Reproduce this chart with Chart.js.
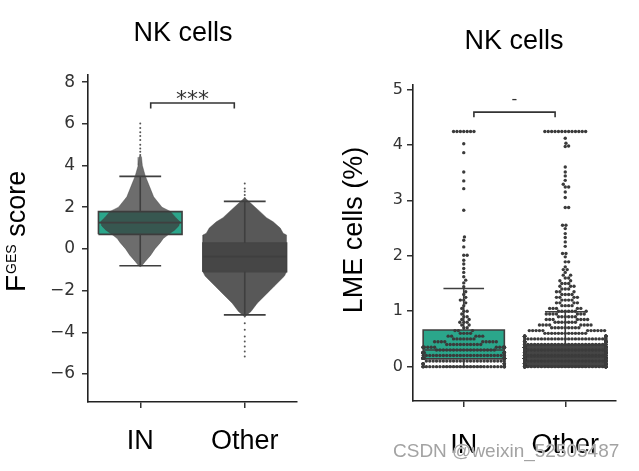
<!DOCTYPE html>
<html>
<head>
<meta charset="utf-8">
<script src="https://cdn.jsdelivr.net/npm/chart.js@4.4.0/dist/chart.umd.min.js"></script>
<style>
  body { margin: 0; background: #fff; width: 639px; height: 471px; overflow: hidden; position: relative; }
  canvas { position: absolute; top: 0; }
  #left { left: 0; }
  #right { left: 320px; }
  #wm { position: absolute; left: 393px; top: 440px; font: 19px "Liberation Sans", Arial, sans-serif;
        color: #a3a3a3; text-shadow: 0 0 1px #fff, 0 0 1px #fff; white-space: nowrap; }
</style>
</head>
<body>
<canvas id="left" width="320" height="471"></canvas>
<canvas id="right" width="319" height="471"></canvas>
<div id="wm">CSDN @weixin_52505487</div>
<script>
const groups = ['IN', 'Other'];

// ---- left panel: F_GES score ----
const gesTicks = [-6, -4, -2, 0, 2, 4, 6, 8];
// [lower whisker, Q1, median, Q3, upper whisker]
const gesBoxIN = [-0.81, 0.70, 1.26, 1.79, 3.48];
const gesBoxOther = [-3.16, -1.09, -0.37, 0.28, 2.28];
// outline of the dense swarm: score level and relative spread (1 = full box width)
const gesLevelIN = [-0.85, -0.8, -0.6, -0.3, 0.0, 0.3, 0.5, 0.7, 0.9, 1.1, 1.3, 1.5, 1.8, 2.0, 2.3, 2.5, 3.0, 3.5, 4.0, 4.4, 4.5];
const gesSpreadIN = [0, 0.04, 0.12, 0.25, 0.35, 0.48, 0.55, 0.68, 0.82, 0.92, 0.95, 0.85, 0.72, 0.52, 0.40, 0.32, 0.22, 0.12, 0.05, 0.03, 0];
const gesLevelOther = [-3.25, -3.0, -2.6, -2.3, -2.0, -1.8, -1.5, -1.3, -1.1, 0.67, 0.75, 1.0, 1.3, 1.5, 1.8, 2.0, 2.2, 2.35, 2.45];
const gesSpreadOther = [0, 0.15, 0.30, 0.45, 0.60, 0.70, 0.85, 0.95, 1.0, 1.0, 0.92, 0.85, 0.68, 0.52, 0.36, 0.25, 0.14, 0.06, 0];
// sparse cells outside the dense part
const gesTailIN = [4.5, 4.66, 4.82, 5.0, 5.22, 5.41, 5.6, 5.8, 6.02];
const gesTailOther = [2.43, 2.59, 2.75, 2.9, 3.14, -3.24, -3.56, -3.88, -4.2, -4.44, -4.68, -4.92, -5.16];
const gesBracket = [6.73, 7.0];
const gesSig = '***';

// ---- right panel: LME cells (%) ----
const lmeTicks = [0, 1, 2, 3, 4, 5];
const lmeBoxIN = [0.0, 0.14, 0.30, 0.66, 1.41];
const lmeBoxOther = [0.0, 0.0, 0.17, 0.40, 0.99];
// sample values and how many samples share each value
const lmeValIN = [0.00, 0.05, 0.10, 0.15, 0.20, 0.25, 0.30, 0.35, 0.40, 0.45, 0.50, 0.55, 0.60, 0.65, 0.70,
  0.75, 0.80, 0.85, 0.90, 0.95, 1.00, 1.05, 1.10, 1.15, 1.20, 1.25, 1.30, 1.35,
  1.44, 1.51, 1.56, 1.62, 1.70, 1.77, 1.85, 1.92, 2.01, 2.16, 2.28, 2.34, 2.82, 3.21, 3.35, 3.51, 3.86, 4.02, 4.24];
const lmeNumIN = [32, 10, 24, 24, 26, 22, 18, 14, 11, 9, 7, 5, 4, 3, 2,
  2, 3, 2, 2, 1, 2, 1, 1, 1, 2, 1, 1, 1,
  1, 1, 1, 1, 1, 1, 1, 1, 2, 1, 1, 1, 1, 1, 1, 1, 1, 1, 7];
const lmeValOther = [0.00, 0.05, 0.10, 0.15, 0.20, 0.25, 0.30, 0.35, 0.40, 0.45, 0.50, 0.55, 0.60, 0.65, 0.70,
  0.75, 0.80, 0.85, 0.90, 0.95, 1.00, 1.05, 1.10, 1.15, 1.20, 1.25, 1.30, 1.35, 1.40, 1.45, 1.50, 1.55,
  1.60, 1.65, 1.70, 1.75, 1.80, 1.89, 1.98, 2.04, 2.17, 2.25, 2.33, 2.40, 2.49, 2.55, 2.87, 3.05, 3.15,
  3.24, 3.29, 3.36, 3.44, 3.51, 3.60, 3.97, 3.98, 4.03, 4.12, 4.24];
const lmeNumOther = [55, 40, 40, 38, 38, 36, 34, 32, 30, 28, 26, 14, 13, 11, 9,
  8, 7, 7, 6, 7, 7, 5, 4, 4, 4, 4, 4, 3, 3, 3, 3, 2,
  2, 2, 1, 2, 1, 2, 1, 2, 1, 1, 1, 1, 1, 2, 2, 1, 1,
  2, 1, 1, 1, 1, 1, 1, 1, 1, 1, 13];
const lmeBracket = [4.50, 4.59];
const lmeSig = '-';

const TEAL = '#2ba68b';
const DARK = '#3f3f3f';
const SANS = '"Liberation Sans", Arial, sans-serif';

function boxShape(c, s) {
  return [{x: c - 0.4, y: s[1]}, {x: c + 0.4, y: s[1]}, {x: c + 0.4, y: s[3]}, {x: c - 0.4, y: s[3]}, {x: c - 0.4, y: s[1]}];
}
function boxLines(c, s) {
  const cap = 0.2, gap = {x: c, y: null};
  return [{x: c, y: s[0]}, {x: c, y: s[1]}, gap, {x: c, y: s[3]}, {x: c, y: s[4]}, gap,
    {x: c - cap, y: s[0]}, {x: c + cap, y: s[0]}, gap, {x: c - cap, y: s[4]}, {x: c + cap, y: s[4]}, gap,
    {x: c - 0.4, y: s[2]}, {x: c + 0.4, y: s[2]}];
}
function outline(c, levels, spread) {
  const right = levels.map((y, i) => ({x: c + 0.4 * spread[i], y}));
  const left = levels.map((y, i) => ({x: c - 0.4 * spread[i], y})).reverse();
  return right.concat(left);
}
function poly(data, fill, border, width, order) {
  return {type: 'line', data, fill: 'shape', backgroundColor: fill, borderColor: border, borderWidth: width,
    pointRadius: 0, tension: 0, order};
}
function segs(data, color, order) {
  return {type: 'line', data, fill: false, borderColor: color, borderWidth: 1.6, pointRadius: 0,
    tension: 0, spanGaps: false, order};
}
function bracket(b) {
  return [{x: 0.1, y: b[0]}, {x: 0.1, y: b[1]}, {x: 0.9, y: b[1]}, {x: 0.9, y: b[0]}];
}

const panelText = {
  id: 'panelText',
  afterDraw(chart, args, o) {
    const ctx = chart.ctx;
    ctx.save();
    ctx.fillStyle = '#000';
    ctx.textBaseline = 'alphabetic';
    ctx.font = '27px ' + SANS;
    ctx.textAlign = 'center';
    ctx.fillText(o.title, o.titleX, o.titleY);
    // rotated axis title
    ctx.translate(o.axisX, o.axisY);
    ctx.rotate(-Math.PI / 2);
    if (o.sup) {
      ctx.textAlign = 'left';
      ctx.font = '28px ' + SANS;
      ctx.fillText(o.axis, 0, 0);
      let w = ctx.measureText(o.axis).width + 1;
      ctx.font = '14px ' + SANS;
      ctx.fillText(o.sup, w, -9);
      w += ctx.measureText(o.sup).width;
      ctx.font = '27px ' + SANS;
      ctx.fillText(o.rest, w, 0);
    } else {
      ctx.fillText(o.axis, 0, 0);
    }
    ctx.restore();
    // significance mark above the bracket
    ctx.save();
    ctx.fillStyle = '#333';
    ctx.textAlign = 'center';
    ctx.font = o.sigSize + 'px "DejaVu Sans", sans-serif';
    ctx.fillText(o.sig, chart.scales.x.getPixelForValue(0.5), chart.scales.y.getPixelForValue(o.sigAt) + o.sigDy);
    ctx.restore();
  }
};

function scales(yMin, yMax, yTicks, yWidth, xHeight, tickSize, yPad, xPad) {
  return {
    x: {
      type: 'linear', min: -0.5, max: 1.5,
      afterBuildTicks: s => { s.ticks = [{value: 0}, {value: 1}]; },
      afterFit: s => { s.height = xHeight; },
      grid: {drawOnChartArea: false, drawTicks: true, tickLength: 6, color: '#333', lineWidth: 1.5},
      border: {display: true, color: '#222', width: 1.6},
      ticks: {color: '#000', font: {family: SANS, size: 27}, padding: xPad, callback: v => groups[v]}
    },
    y: {
      type: 'linear', min: yMin, max: yMax,
      afterBuildTicks: s => { s.ticks = yTicks.map(v => ({value: v})); },
      afterFit: s => { s.width = yWidth; },
      grid: {drawOnChartArea: false, drawTicks: true, tickLength: 6, color: '#333', lineWidth: 1.5},
      border: {display: true, color: '#222', width: 1.6},
      ticks: {color: '#333', font: {family: 'DejaVu Sans', size: tickSize}, padding: yPad,
        callback: v => String(v).replace('-', '\u2212')}
    }
  };
}

// ---- left chart ----
new Chart(document.getElementById('left'), {
  type: 'scatter',
  data: {
    datasets: [
      poly(boxShape(0, gesBoxIN), TEAL, DARK, 1.6, 5),
      poly(boxShape(1, gesBoxOther), '#454545', DARK, 1.6, 5),
      poly(outline(0, gesLevelIN, gesSpreadIN), 'rgba(60,60,60,0.75)', 'rgba(60,60,60,0.4)', 1, 4),
      poly(outline(1, gesLevelOther, gesSpreadOther), 'rgba(70,70,70,0.9)', 'rgba(70,70,70,0.4)', 1, 4),
      segs(boxLines(0, gesBoxIN), DARK, 3),
      segs(boxLines(1, gesBoxOther), DARK, 3),
      {type: 'scatter', data: gesTailIN.map(y => ({x: 0, y})), pointRadius: 1, pointBorderWidth: 0, backgroundColor: '#555', order: 2},
      {type: 'scatter', data: gesTailOther.map(y => ({x: 1, y})), pointRadius: 1, pointBorderWidth: 0, backgroundColor: '#555', order: 2},
      segs(bracket(gesBracket), '#333', 1)
    ]
  },
  options: {
    responsive: false, animation: false, events: [],
    layout: {padding: {top: 75, right: 23, left: 0, bottom: 0}},
    plugins: {
      legend: {display: false}, tooltip: {enabled: false},
      panelText: {title: 'NK cells', titleX: 183, titleY: 41, axis: 'F', sup: 'GES', rest: ' score',
        axisX: 25, axisY: 292, sig: gesSig, sigAt: gesBracket[1], sigDy: 3, sigSize: 22}
    },
    scales: scales(-7.34, 8.34, gesTicks, 88, 69, 17, 7, 17)
  },
  plugins: [panelText]
});

// ---- right chart ----
const right = new Chart(document.getElementById('right'), {
  type: 'scatter',
  data: {
    datasets: [
      poly(boxShape(0, lmeBoxIN), TEAL, DARK, 1.6, 5),
      poly(boxShape(1, lmeBoxOther), '#454545', DARK, 1.6, 5),
      segs(boxLines(0, lmeBoxIN), DARK, 3),
      segs(boxLines(1, lmeBoxOther), DARK, 3),
      {type: 'scatter', data: [], pointRadius: 1.7, pointBorderWidth: 0, backgroundColor: '#3b3b3b', order: 2},
      {type: 'scatter', data: [], pointRadius: 1.7, pointBorderWidth: 0, backgroundColor: '#3b3b3b', order: 2},
      segs(bracket(lmeBracket), '#333', 1)
    ]
  },
  options: {
    responsive: false, animation: false, events: [],
    layout: {padding: {top: 85, right: 23, left: 0, bottom: 0}},
    plugins: {
      legend: {display: false}, tooltip: {enabled: false},
      panelText: {title: 'NK cells', titleX: 194, titleY: 49, axis: 'LME cells (%)',
        axisX: 42, axisY: 230, sig: lmeSig, sigAt: lmeBracket[1], sigDy: -8, sigSize: 16}
    },
    scales: scales(-0.62, 5.08, lmeTicks, 93, 70, 16, 4, 22)
  },
  plugins: [panelText]
});

// beeswarm placement (each sample as close to the centre line as it can go, clipped to the box width)
function swarm(chart, idx, center, vals, nums) {
  const xs = chart.scales.x, ys = chart.scales.y;
  const d = 2 * chart.data.datasets[idx].pointRadius;
  const cx = xs.getPixelForValue(center);
  const gutter = xs.getPixelForValue(center + 0.4) - cx;
  const pts = [];
  vals.forEach((v, i) => { for (let k = 0; k < nums[i]; k++) pts.push({v, py: ys.getPixelForValue(v)}); });
  const placed = [];
  pts.forEach(p => {
    const near = placed.filter(q => Math.abs(q.py - p.py) < d);
    const cand = [0];
    near.forEach(q => {
      const h = Math.sqrt(d * d - (q.py - p.py) ** 2);
      cand.push(q.dx + h, q.dx - h);
    });
    cand.sort((a, b) => Math.abs(a) - Math.abs(b));
    p.dx = cand.find(c => near.every(q => (q.dx - c) ** 2 + (q.py - p.py) ** 2 >= d * d - 0.01));
    placed.push(p);
  });
  chart.data.datasets[idx].data = placed.map(p => ({
    x: xs.getValueForPixel(cx + Math.max(-gutter, Math.min(gutter, p.dx))),
    y: p.v
  }));
}
swarm(right, 4, 0, lmeValIN, lmeNumIN);
swarm(right, 5, 1, lmeValOther, lmeNumOther);
right.update('none');
</script>
</body>
</html>
